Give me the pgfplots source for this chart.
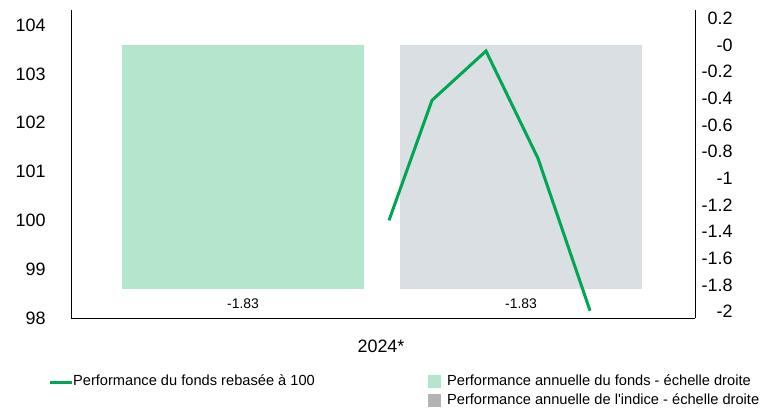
\documentclass[border=0pt]{standalone}
\usepackage{pgfplots}
\pgfplotsset{compat=1.18}
\usepackage{fontspec}
\setmainfont{Liberation Sans}

\definecolor{linegreen}{HTML}{00A651}
\definecolor{fundbar}{HTML}{B3E6CC}
\definecolor{indexbar}{HTML}{DADFE3}
\definecolor{indexkey}{HTML}{B3B3B3}

\pgfplotsset{
  common/.style={
    at={(71bp,-318bp)}, anchor=south west,
    width=624bp, height=308bp, scale only axis,
    xmin=0, xmax=624,
    major tick length=0pt,
    axis line style={line width=0.8bp, black},
    ticklabel style={font=\fontsize{18}{20}\selectfont},
    /pgf/number format/assume math mode=true,
    legend cell align=left,
  },
}

\begin{document}
\begin{tikzpicture}
\useasboundingbox (0,0) rectangle (776bp,-410bp);

% right scale: annual performance bars
\begin{axis}[
  common,
  ymin=-2.047, ymax=0.262,
  axis x line=none, axis y line*=right,
  ytick={-2,-1.8,-1.6,-1.4,-1.2,-1,-0.8,-0.6,-0.4,-0.2,0,0.2},
  yticklabels={-2,-1.8,-1.6,-1.4,-1.2,-1,-0.8,-0.6,-0.4,-0.2,-0,0.2},
  yticklabel style={anchor=east, xshift=41bp},
  legend style={at={(0.572,-0.185)}, anchor=north west, draw=none, fill=none,
    inner sep=0pt, row sep=6bp,
    font=\fontsize{14.7}{16}\selectfont,
    nodes={inner sep=0pt, text height=10bp, text depth=3bp},
    /tikz/every odd column/.append style={column sep=6bp}},
  legend image code/.code={\fill[#1] (0bp,-6.5bp) rectangle (13bp,6.5bp);},
]
\addplot[ybar, bar width=242, bar shift=0pt, fill=fundbar, draw=none, forget plot,
  nodes near coords, point meta=y,
  every node near coord/.append style={font=\fontsize{14}{16}\selectfont, black, yshift=-6bp}]
  coordinates {(172,-1.83)};
\addplot[ybar, bar width=242, bar shift=0pt, fill=indexbar, draw=none, forget plot,
  nodes near coords, point meta=y,
  every node near coord/.append style={font=\fontsize{14}{16}\selectfont, black, yshift=-6bp}]
  coordinates {(450,-1.83)};
\addlegendimage{fill=fundbar, draw=none}
\addlegendentry{Performance annuelle du fonds - échelle droite}
\addlegendimage{fill=indexkey, draw=none}
\addlegendentry{Performance annuelle de l\textquotesingle indice - échelle droite}
\end{axis}

% left scale: fund rebased to 100
\begin{axis}[
  common,
  ymin=98, ymax=104.31,
  axis x line*=bottom, axis y line*=left,
  ytick={98,99,100,101,102,103,104},
  xtick={310}, xticklabels={2024*},
  yticklabel style={xshift=-22bp},
  xticklabel style={yshift=-18bp},
  legend style={at={(-0.037,-0.208)}, anchor=west, draw=none, fill=none,
    inner sep=0pt,
    font=\fontsize{14.7}{16}\selectfont,
    nodes={inner sep=0pt, text height=10bp, text depth=3bp}},
  legend image code/.code={\draw[#1] (0bp,0bp) -- (22bp,0bp);},
]
\addplot[linegreen, line width=3bp] coordinates {
  (318,100) (361,102.46) (415,103.47) (467,101.27) (519,98.15)};
\addlegendentry{Performance du fonds rebasée à 100}
\end{axis}
\end{tikzpicture}
\end{document}
